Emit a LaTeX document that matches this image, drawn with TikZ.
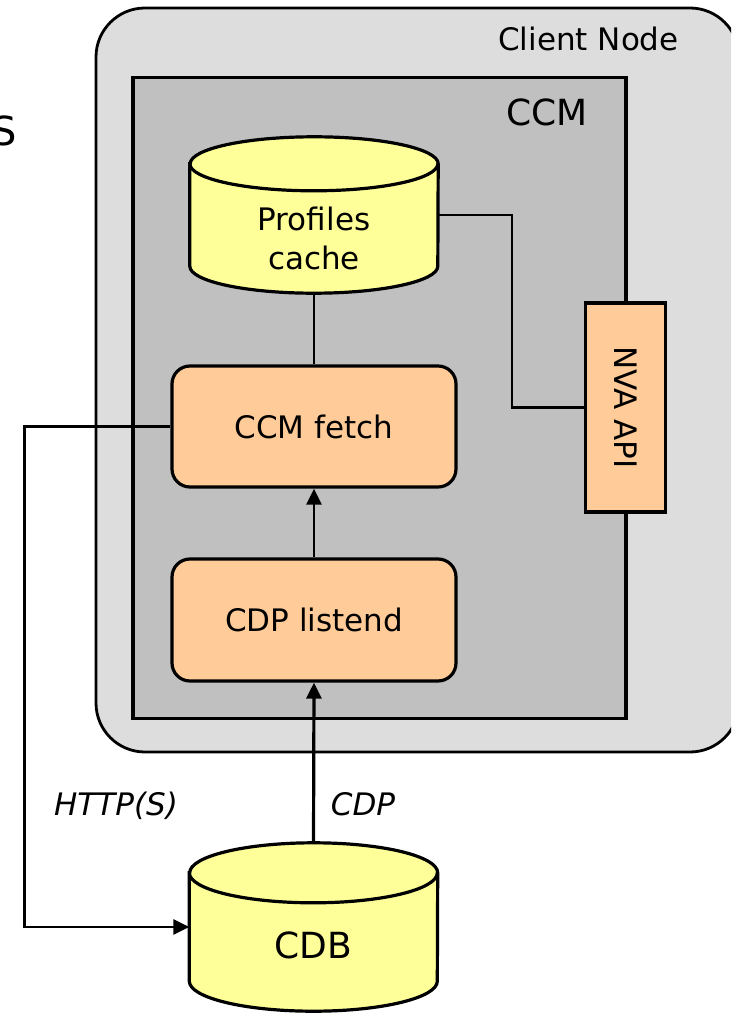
\documentclass[tikz,border=0pt]{standalone}
\usepackage{fontspec}
\usepackage{graphicx}
\setmainfont{DejaVu Sans}
\usetikzlibrary{arrows.meta,calc}

\definecolor{nodegray}{HTML}{DDDDDD}
\definecolor{ccmgray}{HTML}{C0C0C0}
\definecolor{dbyellow}{HTML}{FFFF99}
\definecolor{procorange}{HTML}{FFCC99}

% database cylinder drawn over an empty box node: #1 node, #2 rim radius, #3 half width
\newcommand\dbcylinder[3]{%
  \draw[line width=3.2pt, fill=dbyellow]
    ($(#1.north west)+(0,-#2)$) -- ($(#1.south west)+(0,#2)$)
    arc[start angle=180, end angle=360, x radius=#3, y radius=#2]
    -- ($(#1.north east)+(0,-#2)$)
    arc[start angle=0, end angle=180, x radius=#3, y radius=#2] -- cycle;
  \draw[line width=3.2pt]
    ($(#1.north west)+(0,-#2)$)
    arc[start angle=180, end angle=360, x radius=#3, y radius=#2];
}

\begin{document}
\begin{tikzpicture}[x=1pt, y=1pt,
  txt/.style={font=\fontsize{31}{39}\selectfont, inner sep=0pt},
  bigtxt/.style={font=\fontsize{36}{43}\selectfont, inner sep=0pt},
  proc/.style={draw, line width=3.2pt, fill=procorange, rounded corners=18pt,
    minimum width=284pt, minimum height=121pt, inner sep=0pt,
    font=\fontsize{31}{39}\selectfont},
  dbbox/.style={inner sep=0pt, minimum width=248pt},
  link/.style={line width=2.4pt},
  flow/.style={line width=2.8pt, -{Triangle[length=16pt, width=15pt]}},
]
\useasboundingbox (0,0) rectangle (731,-1016);

% partial heading at the left edge
\node[font=\fontsize{40}{48}\selectfont, inner sep=0pt, anchor=base east] (hdr) at (17.5,-146) {S};

% client node container, running past the right edge
\begin{scope}
  \clip (0,0) rectangle (731,-1016);
  \node[draw, line width=2.8pt, fill=nodegray, rounded corners=49pt,
        minimum width=643pt, minimum height=744pt, inner sep=0pt] (client) at (417.5,-380) {};
\end{scope}
\node[txt, anchor=base] (clientlbl) at (588.5,-51) {Client Node};

% CCM container
\node[draw, line width=3.2pt, fill=ccmgray, minimum width=493pt, minimum height=641pt,
      inner sep=0pt] (ccm) at (379.5,-398) {};
\node[bigtxt, anchor=base] (ccmlbl) at (547,-126) {CCM};

% profiles cache
\node[dbbox, minimum height=156pt] (pc) at (314,-215) {};
\dbcylinder{pc}{27}{124}
\node[txt, align=center] (pclbl) at (314,-238) {Profiles\\cache};

% processes
\node[proc] (fetch) at (314,-426.5) {CCM fetch};
\node[proc, minimum height=122pt] (listen) at (314,-620) {CDP listend};

% NVA API
\node[draw, line width=3.2pt, fill=procorange, minimum width=80pt, minimum height=209pt,
      inner sep=0pt, font=\fontsize{31}{39}\selectfont] (nva) at (625.5,-407.5)
      {\rotatebox{-90}{NVA API}};

% CDB
\node[dbbox, minimum height=168pt] (cdb) at (313.5,-927) {};
\dbcylinder{cdb}{30}{124}
\node[bigtxt, anchor=base] (cdblbl) at (313.5,-958) {CDB};

% connectors
\draw[link] (pc.south) -- (fetch.north);
\draw[link] (pc.east) -- ++(74,0) |- (nva.west);
\draw[flow] (listen.north) -- (fetch.south);
\draw[flow, line width=3.2pt] (cdb.north) -- (listen.south);
\draw[flow] (fetch.west) -- ++(-146,0) |- (cdb.west);

% protocol labels
\node[txt, font=\fontsize{31}{39}\selectfont\itshape, anchor=base] (httplbl) at (116,-815) {HTTP(S)};
\node[txt, font=\fontsize{31}{39}\selectfont\itshape, anchor=base] (cdplbl) at (363,-815) {CDP};
\end{tikzpicture}
\end{document}
